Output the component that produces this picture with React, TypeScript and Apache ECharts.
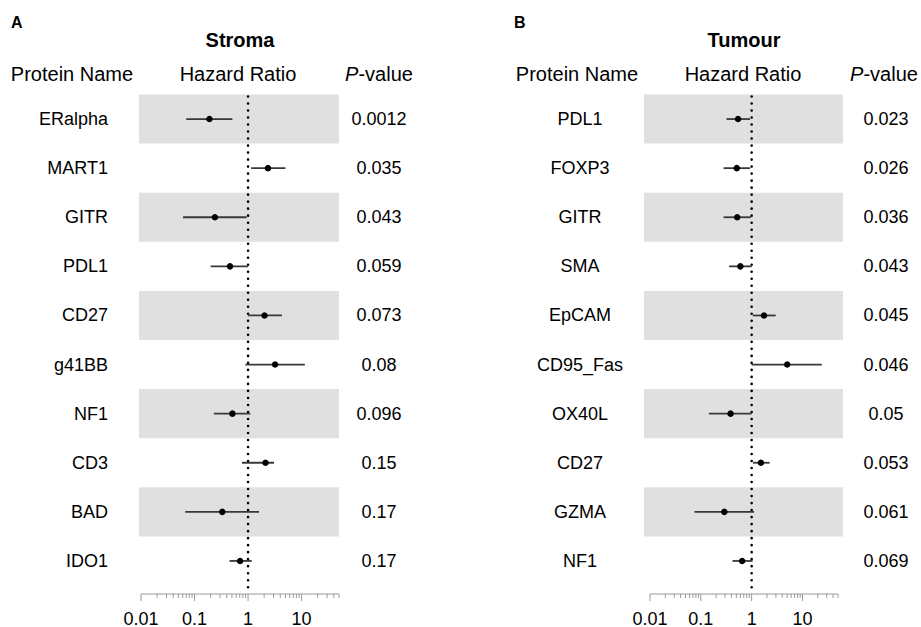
import React, { useEffect, useRef } from "react";
import * as echarts from "echarts";

// ---- Data ----
const stromaNames = ["ERalpha", "MART1", "GITR", "PDL1", "CD27", "g41BB", "NF1", "CD3", "BAD", "IDO1"];
const stromaHR = [0.19, 2.35, 0.24, 0.46, 2.03, 3.2, 0.51, 2.12, 0.33, 0.71];
const stromaLo = [0.07, 1.14, 0.061, 0.2, 1.0, 0.89, 0.23, 0.77, 0.067, 0.45];
const stromaHi = [0.51, 5.0, 0.94, 1.0, 4.3, 11.5, 1.1, 3.05, 1.6, 1.17];
const stromaP = ["0.0012", "0.035", "0.043", "0.059", "0.073", "0.08", "0.096", "0.15", "0.17", "0.17"];

const tumourNames = ["PDL1", "FOXP3", "GITR", "SMA", "EpCAM", "CD95_Fas", "OX40L", "CD27", "GZMA", "NF1"];
const tumourHR = [0.54, 0.51, 0.52, 0.6, 1.75, 5.0, 0.385, 1.52, 0.29, 0.65];
const tumourLo = [0.32, 0.28, 0.28, 0.36, 1.05, 1.0, 0.144, 1.06, 0.075, 0.42];
const tumourHi = [0.93, 0.93, 0.97, 1.0, 2.97, 24, 1.0, 2.26, 1.12, 1.04];
const tumourP = ["0.023", "0.026", "0.036", "0.043", "0.045", "0.046", "0.05", "0.053", "0.061", "0.069"];

const majorTicks = [0.01, 0.1, 1, 10];
const majorTickLabels = ["0.01", "0.1", "1", "10"];
const minorTicks = [
  0.02, 0.03, 0.04, 0.05, 0.06, 0.07, 0.08, 0.09,
  0.2, 0.3, 0.4, 0.5, 0.6, 0.7, 0.8, 0.9,
  2, 3, 4, 5, 6, 7, 8, 9,
  20, 30, 40, 50,
];
const axisMin = 0.01;
const axisMax = 50;
const refValue = 1;

const FONT = '"Liberation Sans", Arial, Helvetica, sans-serif';
const AXIS_OFFSET = 8.5;

function panelSeries(
  gi: number,
  names: string[],
  hr: number[],
  lo: number[],
  hi: number[],
  pv: string[],
  cfg: { nameX: number; nameAlign: string; pX: number; padL: number; padR: number }
) {
  const rows = names.map((_, i) => i + 1);
  const n = rows.length;
  const series: any[] = [];
  // bands
  series.push({
    type: "custom",
    xAxisIndex: gi,
    yAxisIndex: gi,
    clip: false,
    silent: true,
    z: 1,
    data: rows.map((r) => [axisMin, r]),
    encode: { x: 0, y: 1 },
    renderItem: (params: any, api: any) => {
      if (params.dataIndex % 2 !== 0) return null;
      const r = api.value(1);
      const a = api.coord([axisMin, r - 0.5]);
      const b = api.coord([axisMax, r + 0.5]);
      return {
        type: "rect",
        shape: {
          x: a[0] - cfg.padL,
          y: Math.min(a[1], b[1]),
          width: b[0] - a[0] + cfg.padL + cfg.padR,
          height: Math.abs(b[1] - a[1]),
        },
        style: { fill: "#e0e0e0" },
      };
    },
  });
  // reference dotted line
  series.push({
    type: "custom",
    xAxisIndex: gi,
    yAxisIndex: gi,
    clip: false,
    silent: true,
    z: 3,
    data: [[refValue, 0.5]],
    encode: { x: 0, y: 1 },
    renderItem: (params: any, api: any) => {
      const a = api.coord([refValue, 0.5]);
      const b = api.coord([refValue, n + 0.5]);
      return {
        type: "line",
        shape: { x1: a[0], y1: a[1] + 2, x2: b[0], y2: b[1] + AXIS_OFFSET },
        style: { stroke: "#000", lineWidth: 2.6, lineDash: [0.01, 7], lineCap: "round" },
      };
    },
  });
  // CI lines
  series.push({
    type: "custom",
    xAxisIndex: gi,
    yAxisIndex: gi,
    clip: false,
    silent: true,
    z: 4,
    data: rows.map((r, i) => [lo[i], hi[i], r]),
    encode: { x: [0, 1], y: 2 },
    renderItem: (params: any, api: any) => {
      const r = api.value(2);
      const a = api.coord([api.value(0), r]);
      const b = api.coord([api.value(1), r]);
      return {
        type: "line",
        shape: { x1: a[0], y1: a[1], x2: b[0], y2: b[1] },
        style: { stroke: "#383838", lineWidth: 1.8 },
      };
    },
  });
  // points
  series.push({
    type: "scatter",
    xAxisIndex: gi,
    yAxisIndex: gi,
    z: 5,
    silent: true,
    symbol: "circle",
    symbolSize: 6.5,
    itemStyle: { color: "#000", opacity: 1 },
    data: rows.map((r, i) => [hr[i], r]),
  });
  // axis line
  series.push({
    type: "custom",
    xAxisIndex: gi,
    yAxisIndex: gi,
    clip: false,
    silent: true,
    z: 2,
    data: [[axisMin, n + 0.5]],
    encode: { x: 0, y: 1 },
    renderItem: (params: any, api: any) => {
      const a = api.coord([axisMin, n + 0.5]);
      const b = api.coord([axisMax, n + 0.5]);
      return {
        type: "line",
        shape: { x1: a[0], y1: a[1] + AXIS_OFFSET, x2: b[0], y2: b[1] + AXIS_OFFSET },
        style: { stroke: "#9a9a9a", lineWidth: 1 },
      };
    },
  });
  // ticks
  const tickData = [
    ...majorTicks.map((v, i) => [v, 1, i]),
    ...minorTicks.map((v) => [v, 0, -1]),
  ];
  series.push({
    type: "custom",
    xAxisIndex: gi,
    yAxisIndex: gi,
    clip: false,
    silent: true,
    z: 2,
    data: tickData,
    encode: { x: 0 },
    renderItem: (params: any, api: any) => {
      const v = api.value(0);
      const major = api.value(1) === 1;
      const li = api.value(2);
      const p = api.coord([v, n + 0.5]);
      const y0 = p[1] + AXIS_OFFSET;
      const children: any[] = [
        {
          type: "line",
          shape: { x1: p[0], y1: y0, x2: p[0], y2: y0 + (major ? 7 : 4) },
          style: { stroke: "#9a9a9a", lineWidth: 1 },
        },
      ];
      if (major) {
        children.push({
          type: "text",
          style: {
            text: majorTickLabels[li],
            x: p[0],
            y: y0 + 24.5,
            align: "center",
            verticalAlign: "middle",
            textAlign: "center",
            textVerticalAlign: "middle",
            fill: "#000",
            fontSize: 18,
            lineHeight: 17,
            fontFamily: FONT,
          },
        });
      }
      return { type: "group", children };
    },
  });
  // name labels and p-values
  series.push({
    type: "custom",
    xAxisIndex: gi,
    yAxisIndex: gi,
    clip: false,
    silent: true,
    z: 6,
    data: rows.map((r) => [refValue, r]),
    encode: { x: 0, y: 1 },
    renderItem: (params: any, api: any) => {
      const i = params.dataIndex;
      const p = api.coord([refValue, api.value(1)]);
      const y = p[1];
      return {
        type: "group",
        children: [
          {
            type: "text",
            style: {
              text: names[i],
              x: cfg.nameX,
              y,
              align: cfg.nameAlign,
              verticalAlign: "middle",
              textAlign: cfg.nameAlign,
              textVerticalAlign: "middle",
              fill: "#000",
              fontSize: 18,
              fontFamily: FONT,
            },
          },
          {
            type: "text",
            style: {
              text: pv[i],
              x: cfg.pX,
              y,
              align: "center",
              verticalAlign: "middle",
              textAlign: "center",
              textVerticalAlign: "middle",
              fill: "#000",
              fontSize: 18,
              fontFamily: FONT,
            },
          },
        ],
      };
    },
  });
  return series;
}

function headerTexts(
  letter: string,
  letterX: number,
  title: string,
  titleX: number,
  nameX: number,
  hrX: number,
  pX: number
) {
  const base = { fill: "#000", fontFamily: FONT };
  return [
    {
      type: "text",
      left: letterX,
      top: 14,
      style: { ...base, text: letter, fontSize: 16, fontWeight: "bold" },
    },
    {
      type: "text",
      x: titleX,
      y: 40,
      style: {
        ...base,
        text: title,
        fontSize: 20,
        fontWeight: "bold",
        align: "center",
        verticalAlign: "middle",
        textAlign: "center",
        textVerticalAlign: "middle",
      },
    },
    {
      type: "text",
      x: nameX,
      y: 74,
      style: {
        ...base,
        text: "Protein Name",
        fontSize: 20,
        align: "center",
        verticalAlign: "middle",
        textAlign: "center",
        textVerticalAlign: "middle",
      },
    },
    {
      type: "text",
      x: hrX,
      y: 74,
      style: {
        ...base,
        text: "Hazard Ratio",
        fontSize: 20,
        align: "center",
        verticalAlign: "middle",
        textAlign: "center",
        textVerticalAlign: "middle",
      },
    },
    {
      type: "text",
      x: pX,
      y: 74,
      style: {
        ...base,
        text: "{i|P}-value",
        fontSize: 20,
        align: "center",
        verticalAlign: "middle",
        textAlign: "center",
        textVerticalAlign: "middle",
        rich: {
          i: { fontStyle: "italic", fontSize: 20, fontFamily: FONT, fill: "#000", color: "#000" },
        },
      },
    },
  ];
}

export default function App() {
  const ref = useRef<HTMLDivElement>(null);
  useEffect(() => {
    if (!ref.current) return;
    const chart = echarts.init(ref.current, undefined, { renderer: "svg" });
    const grids = [
      { left: 141, width: 198, top: 94.5, height: 491 },
      { left: 650, width: 188, top: 94.5, height: 491 },
    ];
    const xAxis = grids.map((_, i) => ({
      type: "log",
      logBase: 10,
      gridIndex: i,
      min: axisMin,
      max: axisMax,
      show: false,
    }));
    const yAxis = grids.map((_, i) => ({
      type: "value",
      gridIndex: i,
      min: 0.5,
      max: 10.5,
      inverse: true,
      show: false,
    }));
    const series = [
      ...panelSeries(0, stromaNames, stromaHR, stromaLo, stromaHi, stromaP, {
        nameX: 108,
        nameAlign: "right",
        pX: 379,
        padL: 2,
        padR: 0,
      }),
      ...panelSeries(1, tumourNames, tumourHR, tumourLo, tumourHi, tumourP, {
        nameX: 580,
        nameAlign: "center",
        pX: 886,
        padL: 6,
        padR: 5,
      }),
    ];
    chart.setOption({
      animation: false,
      backgroundColor: "#ffffff",
      grid: grids.map((g) => ({ ...g, containLabel: false })),
      xAxis,
      yAxis,
      series,
      graphic: [
        ...headerTexts("A", 11, "Stroma", 240, 72, 238, 379),
        ...headerTexts("B", 514, "Tumour", 744, 577, 743, 884),
      ],
    });
    return () => chart.dispose();
  }, []);
  return (
    <div
      ref={ref}
      style={{ position: "fixed", left: 0, top: 0, width: 921, height: 627, background: "#fff" }}
    />
  );
}
